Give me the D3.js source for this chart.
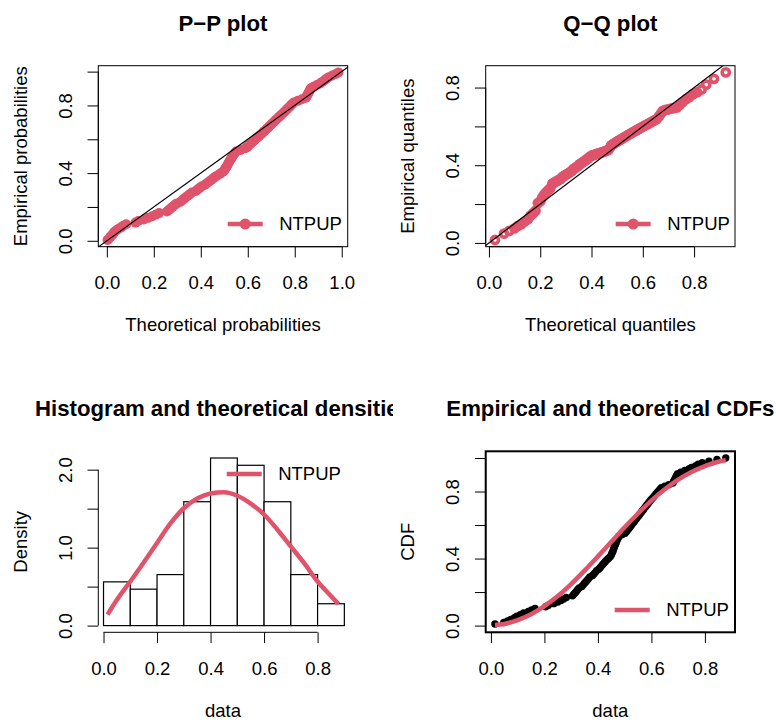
<!DOCTYPE html>
<html>
<head>
<meta charset="utf-8">
<script src="https://cdn.jsdelivr.net/npm/d3@7"></script>
<style>
  body { margin: 0; background: #fff; }
  svg { display: block; }
</style>
</head>
<body>
<script>
// fitted series name
var seriesName = 'NTPUP';

// observed sample (sorted), n = 107
var sample = [
  0.015, 0.048, 0.062, 0.075, 0.088, 0.097,
  0.110, 0.122, 0.140, 0.152, 0.165,
  0.205, 0.215, 0.235, 0.250, 0.262, 0.272, 0.282,
  0.305, 0.310, 0.315, 0.320, 0.325, 0.330, 0.340, 0.345, 0.350, 0.355, 0.360, 0.365, 0.370, 0.380, 0.385, 0.390, 0.395,
  0.403, 0.408, 0.413, 0.418, 0.423, 0.428, 0.434, 0.440, 0.446, 0.450, 0.452, 0.455, 0.457, 0.459, 0.461, 0.463, 0.466, 0.468, 0.470, 0.473, 0.476, 0.479, 0.490,
  0.502, 0.507, 0.511, 0.516, 0.520, 0.525, 0.529, 0.534, 0.538, 0.543, 0.547, 0.552, 0.556, 0.561, 0.565, 0.570, 0.574, 0.579, 0.583, 0.588, 0.592, 0.597,
  0.602, 0.607, 0.612, 0.617, 0.622, 0.627, 0.632, 0.637, 0.650, 0.665, 0.680, 0.683, 0.686, 0.689, 0.692, 0.695, 0.698,
  0.710, 0.725, 0.740, 0.750, 0.765, 0.775, 0.790,
  0.815, 0.845, 0.878
];

// histogram breaks
var histBreaks = [0, 0.1, 0.2, 0.3, 0.4, 0.5, 0.6, 0.7, 0.8, 0.9];

// fitted density
var densX = [0.015, 0.05, 0.10, 0.15, 0.20, 0.25, 0.30, 0.35, 0.40, 0.45, 0.50, 0.55, 0.60, 0.65, 0.70, 0.75, 0.80, 0.85, 0.878];
var densY = [0.14, 0.33, 0.565, 0.81, 1.06, 1.31, 1.505, 1.63, 1.695, 1.71, 1.665, 1.565, 1.425, 1.23, 1.015, 0.80, 0.565, 0.38, 0.276];

// fitted cdf
var cdfX = [0, 0.05, 0.10, 0.15, 0.20, 0.25, 0.30, 0.35, 0.40, 0.45, 0.50, 0.55, 0.60, 0.65, 0.70, 0.75, 0.80, 0.85, 0.90, 0.95, 1.0];
var cdfY = [0, 0.010, 0.033, 0.068, 0.116, 0.176, 0.248, 0.328, 0.413, 0.500, 0.587, 0.669, 0.746, 0.813, 0.871, 0.917, 0.952, 0.978, 0.9925, 0.9985, 1.0];

// tick values
var probTicks = [0, 0.2, 0.4, 0.6, 0.8, 1.0];
var quantTicks = [0, 0.2, 0.4, 0.6, 0.8];
var densTicks = [0, 0.5, 1.0, 1.5, 2.0];
var probLabels = [0, 0.4, 0.8];
var densLabels = [0, 1.0, 2.0];

var red = '#DF536B';
var font = '"Liberation Sans", Arial, Helvetica, sans-serif';
var fs = 18.5;

var svg = d3.select('body').append('svg')
    .attr('width', 776)
    .attr('height', 723)
    .style('font-family', font);

var cols = [[98.3, 347.7], [485.7, 735]];
var rows = [[65.7, 246.7], [451.3, 632.3]];

// R style 4% padding
function pad(ext) {
    var r = ext[1] - ext[0];
    return [ext[0] - 0.04 * r, ext[1] + 0.04 * r];
}

var n = sample.length;
var F = d3.scaleLinear().domain(cdfX).range(cdfY);
var Finv = d3.scaleLinear().domain(cdfY).range(cdfX);
var pp = sample.map(function(d, i){ return (i + 0.5) / n; });

function panel(id, c, r, xdom, ydom, box, boxW) {
    var x = d3.scaleLinear().domain(xdom).range(cols[c]);
    var y = d3.scaleLinear().domain(ydom).range([rows[r][1], rows[r][0]]);
    svg.append('clipPath').attr('id', id)
        .append('rect')
        .attr('x', cols[c][0]).attr('y', rows[r][0])
        .attr('width', cols[c][1] - cols[c][0])
        .attr('height', rows[r][1] - rows[r][0]);
    var g = svg.append('g');
    var plot = g.append('g').attr('clip-path', 'url(#' + id + ')');
    return {x: x, y: y, g: g, plot: plot, c: c, r: r, box: box, boxW: boxW};
}

function axes(p, xt, yt, ylab, xlabel, ylabel, title) {
    var left = cols[p.c][0], bottom = rows[p.r][1], top = rows[p.r][0];
    var xa = p.g.append('g')
        .attr('transform', 'translate(0,' + bottom + ')')
        .call(d3.axisBottom(p.x).tickValues(xt).tickSize(10.8).tickSizeOuter(0)
            .tickFormat(d3.format('.1f')));
    xa.select('.domain').remove();
    xa.selectAll('line').attr('stroke', '#000');
    xa.selectAll('text').attr('y', 42.6).attr('dy', null)
        .attr('font-size', fs).attr('font-family', font).attr('fill', '#000');
    xa.append('line')
        .attr('x1', p.x(xt[0])).attr('x2', p.x(xt[xt.length - 1]))
        .attr('stroke', '#000');

    var ya = p.g.append('g')
        .attr('transform', 'translate(' + left + ',0)')
        .call(d3.axisLeft(p.y).tickValues(yt).tickSize(10.8).tickSizeOuter(0)
            .tickFormat(function(d){ return ylab.indexOf(d) >= 0 ? d3.format('.1f')(d) : ''; }));
    ya.select('.domain').remove();
    ya.selectAll('line').attr('stroke', '#000');
    ya.selectAll('text')
        .attr('transform', 'rotate(-90)')
        .attr('x', 0).attr('y', -26.6).attr('dy', null)
        .attr('text-anchor', 'middle')
        .attr('font-size', fs).attr('font-family', font).attr('fill', '#000');
    ya.append('line')
        .attr('y1', p.y(yt[0])).attr('y2', p.y(yt[yt.length - 1]))
        .attr('stroke', '#000');

    if (p.box) {
        p.g.append('rect')
            .attr('x', cols[p.c][0]).attr('y', top)
            .attr('width', cols[p.c][1] - cols[p.c][0])
            .attr('height', bottom - top)
            .attr('fill', 'none')
            .attr('stroke', '#000')
            .attr('stroke-width', p.boxW);
    }

    var mid = (cols[p.c][0] + cols[p.c][1]) / 2;
    p.g.append('text')
        .attr('x', mid).attr('y', bottom + 84.3)
        .attr('text-anchor', 'middle')
        .attr('font-size', fs)
        .text(xlabel);
    p.g.append('text')
        .attr('transform', 'translate(' + (left - 71.7) + ',' + ((top + bottom) / 2) + ') rotate(-90)')
        .attr('text-anchor', 'middle')
        .attr('font-size', fs)
        .text(ylabel);
    var t = p.g.append('text')
        .attr('x', mid).attr('y', top - 35)
        .attr('text-anchor', 'middle')
        .attr('font-size', 22.2)
        .attr('font-weight', 'bold')
        .text(title);
    return t;
}

function legend(p, lx, ly, dot) {
    var lg = p.g.append('g');
    lg.append('line')
        .attr('x1', lx).attr('x2', lx + 35)
        .attr('y1', ly).attr('y2', ly)
        .attr('stroke', red)
        .attr('stroke-width', 4.5);
    if (dot) {
        lg.append('circle').attr('cx', lx + 17.5).attr('cy', ly).attr('r', 5.5).attr('fill', red);
    }
    lg.append('text')
        .attr('x', lx + 51.5).attr('y', ly)
        .attr('dy', '0.35em')
        .attr('font-size', fs)
        .text(seriesName);
}

var dataExt = d3.extent(sample);

// ---- P-P plot
var ppX = sample.map(function(d){ return F(d); });
var p1 = panel('c1', 0, 0, pad(d3.extent(ppX)), pad(d3.extent(pp)), true, 1);
p1.plot.selectAll('circle')
    .data(sample)
    .enter()
    .append('circle')
    .attr('cx', function(d, i){ return p1.x(ppX[i]); })
    .attr('cy', function(d, i){ return p1.y(pp[i]); })
    .attr('r', 5)
    .attr('fill', red);
p1.plot.append('line')
    .attr('x1', p1.x(-1)).attr('y1', p1.y(-1))
    .attr('x2', p1.x(2)).attr('y2', p1.y(2))
    .attr('stroke', '#000').attr('stroke-width', 1.2);
axes(p1, probTicks, probTicks, probLabels, 'Theoretical probabilities', 'Empirical probabilities', 'P\u2212P plot');
legend(p1, 227.7, 224, true);

// ---- Q-Q plot
var qqX = pp.map(function(d){ return Finv(d); });
var p2 = panel('c2', 1, 0, pad(d3.extent(qqX)), pad(dataExt), true, 1);
p2.plot.selectAll('circle')
    .data(sample)
    .enter()
    .append('circle')
    .attr('cx', function(d, i){ return p2.x(qqX[i]); })
    .attr('cy', function(d){ return p2.y(d); })
    .attr('r', 3.6)
    .attr('fill', 'none')
    .attr('stroke', red)
    .attr('stroke-width', 3.6);
p2.plot.append('line')
    .attr('x1', p2.x(-1)).attr('y1', p2.y(-1))
    .attr('x2', p2.x(2)).attr('y2', p2.y(2))
    .attr('stroke', '#000').attr('stroke-width', 1.2);
axes(p2, quantTicks, quantTicks, probLabels, 'Theoretical quantiles', 'Empirical quantiles', 'Q\u2212Q plot');
legend(p2, 615.7, 224, true);

// ---- histogram + density
var bins = d3.bin()
    .domain([histBreaks[0], histBreaks[histBreaks.length - 1]])
    .thresholds(histBreaks.slice(1, -1))(sample);
var histD = bins.map(function(b){ return b.length / (n * (b.x1 - b.x0)); });
var p3 = panel('c3', 0, 1, pad(dataExt), pad([0, d3.max(histD)]), false, 1);
p3.plot.selectAll('rect.bar')
    .data(bins)
    .enter()
    .append('rect')
    .attr('class', 'bar')
    .attr('x', function(d){ return p3.x(d.x0); })
    .attr('width', function(d){ return p3.x(d.x1) - p3.x(d.x0); })
    .attr('y', function(d, i){ return p3.y(histD[i]); })
    .attr('height', function(d, i){ return p3.y(0) - p3.y(histD[i]); })
    .attr('fill', '#fff')
    .attr('stroke', '#000')
    .attr('stroke-width', 1.2);
p3.plot.append('path')
    .datum(densX.map(function(d, i){ return [d, densY[i]]; }))
    .attr('d', d3.line()
        .x(function(d){ return p3.x(d[0]); })
        .y(function(d){ return p3.y(d[1]); })
        .curve(d3.curveMonotoneX))
    .attr('fill', 'none')
    .attr('stroke', red)
    .attr('stroke-width', 4.5);
svg.append('clipPath').attr('id', 'tclip')
    .append('rect').attr('x', 0).attr('y', 380).attr('width', 393).attr('height', 60);
var t3 = axes(p3, quantTicks, densTicks, densLabels, 'data', 'Density', 'Histogram and theoretical densities');
t3.attr('clip-path', 'url(#tclip)');
legend(p3, 226.7, 474, false);

// ---- CDFs
var p4 = panel('c4', 1, 1, pad(dataExt), pad([0, 1]), true, 2);
p4.plot.selectAll('circle')
    .data(sample)
    .enter()
    .append('circle')
    .attr('cx', function(d){ return p4.x(d); })
    .attr('cy', function(d, i){ return p4.y((i + 1) / n); })
    .attr('r', 3.7)
    .attr('fill', '#000');
var cdfPts = [[dataExt[0], F(dataExt[0])]];
cdfX.forEach(function(d, i){
    if (d > dataExt[0] && d < dataExt[1]) cdfPts.push([d, cdfY[i]]);
});
cdfPts.push([dataExt[1], F(dataExt[1])]);
p4.plot.append('path')
    .datum(cdfPts)
    .attr('d', d3.line()
        .x(function(d){ return p4.x(d[0]); })
        .y(function(d){ return p4.y(d[1]); })
        .curve(d3.curveMonotoneX))
    .attr('fill', 'none')
    .attr('stroke', red)
    .attr('stroke-width', 4.5);
axes(p4, quantTicks, probTicks, probLabels, 'data', 'CDF', 'Empirical and theoretical CDFs');
legend(p4, 614.7, 610, false);
</script>
</body>
</html>
